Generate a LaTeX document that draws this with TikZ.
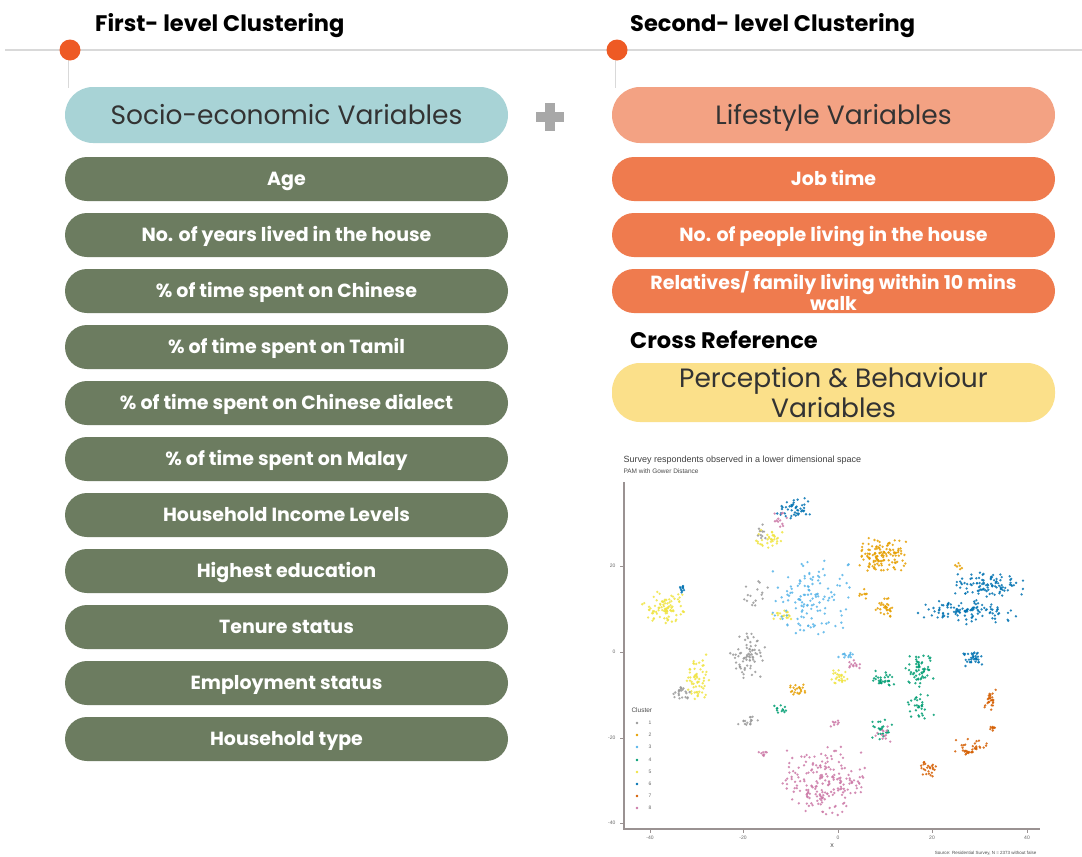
\documentclass[tikz,border=0pt]{standalone}
\usepackage{fontspec}
\setmainfont{Poppins}
\newfontfamily\plotfont{Liberation Sans}
\definecolor{teal}{HTML}{A8D3D6}
\definecolor{salmon}{HTML}{F3A283}
\definecolor{sage}{HTML}{6C7C60}
\definecolor{tang}{HTML}{EF7B4E}
\definecolor{butter}{HTML}{FBE08A}
\definecolor{dotred}{HTML}{EE5A24}
\definecolor{rule}{HTML}{D9D9D9}
\definecolor{plusgray}{HTML}{A8A8A8}
\definecolor{axisgray}{HTML}{9A9292}
\definecolor{cA}{HTML}{999999}
\definecolor{cB}{HTML}{E69F00}
\definecolor{cC}{HTML}{56B4E9}
\definecolor{cD}{HTML}{009E73}
\definecolor{cE}{HTML}{F0E442}
\definecolor{cF}{HTML}{0072B2}
\definecolor{cG}{HTML}{D55E00}
\definecolor{cH}{HTML}{CC79A7}
% scatter of a point cloud: colour, centre x, centre y, spread x, spread y, count
\newcommand\dotcluster[6]{%
  \foreach \k in {1,...,#6}{%
    \pgfmathsetmacro\dx{#4*0.6*(rand+rand)}%
    \pgfmathsetmacro\dy{#5*0.6*(rand+rand)}%
    \fill[#1,opacity=0.85] (#2+\dx,#3+\dy) circle (1.3pt);
  }}
\begin{document}
\begin{tikzpicture}[x=1pt,y=-1pt,
  headtext/.style={font=\bfseries\fontsize{22.5}{26}\selectfont, text=black, anchor=west,
    inner sep=0pt, text height=15.7pt, text depth=0pt},
  headpill/.style={rounded corners=28pt, minimum width=443pt, minimum height=56pt,
    inner sep=0pt, font=\fontsize{26.5}{30}\selectfont, text=black!80, align=center},
  capcentre/.style={text height=#1, text depth=0pt},
  greenpill/.style={fill=sage, rounded corners=22pt, minimum width=443pt, minimum height=44pt,
    inner sep=0pt, font=\bfseries\fontsize{19}{21}\selectfont, text=white, align=center},
  orangepill/.style={greenpill, fill=tang},
  marker/.style={circle, fill=dotred, minimum size=21pt, inner sep=0pt},
  ticklab/.style={font=\plotfont\fontsize{5}{6}\selectfont, text=black!60},
]
\useasboundingbox (0,0) rectangle (1082,857);
\fill[white] (0,0) rectangle (1082,857);

% timeline
\draw[rule, line width=1.2pt] (5,50) -- (1082,50);
\draw[rule, line width=0.8pt] (68,50) -- (68,88);
\draw[rule, line width=0.8pt] (615,50) -- (615,88);
\node[marker] (m1) at (70,50) {};
\node[marker] (m2) at (617,50) {};
\node[headtext] (h1) at (95,24) {First- level Clustering};
\node[headtext] (h2) at (630,24) {Second- level Clustering};

% left column
\node[headpill, capcentre=18.5pt, fill=teal] (socio) at (286.5,115) {Socio-economic Variables};
\begin{scope}[every node/.append style={capcentre=13.3pt}]
\node[greenpill] (g1) at (286.5,179) {Age};
\node[greenpill] (g2) at (286.5,235) {No. of years lived in the house};
\node[greenpill] (g3) at (286.5,291) {\% of time spent on Chinese};
\node[greenpill] (g4) at (286.5,347) {\% of time spent on Tamil};
\node[greenpill] (g5) at (286.5,403) {\% of time spent on Chinese dialect};
\node[greenpill] (g6) at (286.5,459) {\% of time spent on Malay};
\node[greenpill] (g7) at (286.5,515) {Household Income Levels};
\node[greenpill] (g8) at (286.5,571) {Highest education};
\node[greenpill] (g9) at (286.5,627) {Tenure status};
\node[greenpill] (g10) at (286.5,683) {Employment status};
\node[greenpill] (g11) at (286.5,739) {Household type};
\node[orangepill] (o1) at (833.5,179) {Job time};
\node[orangepill] (o2) at (833.5,235) {No. of people living in the house};
\end{scope}

% plus sign
\node (plus) at (550,117) {};
\fill[plusgray] (545,103) rectangle (555,131);
\fill[plusgray] (536,112) rectangle (564,122);

% right column
\node[headpill, capcentre=18.5pt, fill=salmon] (life) at (833.5,115) {Lifestyle Variables};
\node[orangepill] (o3) at (833.5,291)
  {Relatives/ family living within 10 mins\\walk};
\node[headtext] (cross) at (630,341) {Cross Reference};
\node[headpill, fill=butter, minimum height=59pt] (perc) at (833.5,392.5)
  {Perception \& Behaviour\\Variables};

% scatter plot
\node[font=\plotfont\fontsize{9}{10}\selectfont, text=black!75, anchor=west] (ptitle) at (620,460)
  {Survey respondents observed in a lower dimensional space};
\node[font=\plotfont\fontsize{6.5}{8}\selectfont, text=black!70, anchor=west] (psub) at (620,471)
  {PAM with Gower Distance};
\draw[axisgray, line width=1.4pt] (624,482) -- (624,829) -- (1040,829);
\foreach \yy/\lab in {566/20, 652/0, 738/-20, 823/-40}{
  \draw[axisgray, line width=0.6pt] (620,\yy) -- (624,\yy);
  \node[ticklab, anchor=east] at (619,\yy) {\lab};
}
\foreach \xx/\lab in {650/-40, 743/-20, 838/0, 932/20, 1027/40}{
  \draw[axisgray, line width=0.6pt] (\xx,829) -- (\xx,833);
  \node[ticklab] at (\xx,838) {\lab};
}
\node[font=\plotfont\fontsize{7}{8}\selectfont, text=black!70] (xlab) at (832,846) {x};
\node[font=\plotfont\fontsize{4.5}{5}\selectfont, text=black!70, anchor=east] (src) at (1040,853)
  {Source: Residential Survey, N = 2373 without false};

\pgfmathsetseed{11}
% cluster 6
\dotcluster{cF}{793}{508}{18}{10}{45}
\dotcluster{cF}{988}{585}{32}{12}{100}
\dotcluster{cF}{968}{612}{45}{11}{110}
\dotcluster{cF}{973}{658}{10}{8}{35}
\dotcluster{cF}{681}{588}{6}{4}{10}
% cluster 2
\dotcluster{cB}{883}{555}{22}{15}{130}
\dotcluster{cB}{885}{608}{8}{9}{30}
\dotcluster{cB}{864}{594}{5}{5}{8}
\dotcluster{cB}{799}{688}{8}{7}{22}
\dotcluster{cB}{960}{567}{5}{4}{6}
% cluster 5
\dotcluster{cE}{663}{608}{20}{14}{90}
\dotcluster{cE}{698}{680}{11}{25}{60}
\dotcluster{cE}{768}{540}{15}{10}{35}
\dotcluster{cE}{782}{615}{10}{5}{20}
\dotcluster{cE}{838}{677}{9}{8}{25}
% cluster 1
\dotcluster{cA}{750}{655}{17}{22}{70}
\dotcluster{cA}{683}{693}{10}{6}{22}
\dotcluster{cA}{747}{720}{10}{6}{16}
\dotcluster{cA}{755}{595}{12}{15}{16}
\dotcluster{cA}{762}{530}{8}{8}{10}
% cluster 3
\dotcluster{cC}{812}{600}{38}{35}{130}
\dotcluster{cC}{845}{655}{10}{3}{12}
% cluster 4
\dotcluster{cD}{920}{670}{15}{15}{60}
\dotcluster{cD}{883}{678}{10}{9}{30}
\dotcluster{cD}{920}{705}{13}{14}{30}
\dotcluster{cD}{882}{728}{10}{10}{25}
\dotcluster{cD}{780}{710}{10}{5}{12}
% cluster 8
\dotcluster{cH}{822}{780}{38}{30}{200}
\dotcluster{cH}{762}{752}{5}{5}{8}
\dotcluster{cH}{855}{665}{6}{5}{12}
\dotcluster{cH}{835}{723}{6}{3}{8}
\dotcluster{cH}{780}{520}{10}{8}{12}
\dotcluster{cH}{884}{732}{10}{10}{12}
% cluster 7
\dotcluster{cG}{990}{700}{6}{12}{25}
\dotcluster{cG}{972}{748}{15}{8}{35}
\dotcluster{cG}{930}{768}{9}{8}{25}
\dotcluster{cG}{993}{728}{4}{3}{8}

% legend
\node[font=\plotfont\fontsize{6.5}{7}\selectfont, text=black!70, anchor=west] (legt) at (628,710) {Cluster};
\foreach \c/\n/\yy in {cA/1/723, cB/2/735, cC/3/747, cD/4/760, cE/5/772, cF/6/784, cG/7/796, cH/8/808}{
  \fill[\c] (637,\yy) circle (1.3pt);
  \node[ticklab, anchor=west] at (645,\yy) {\n};
}
\end{tikzpicture}
\end{document}
